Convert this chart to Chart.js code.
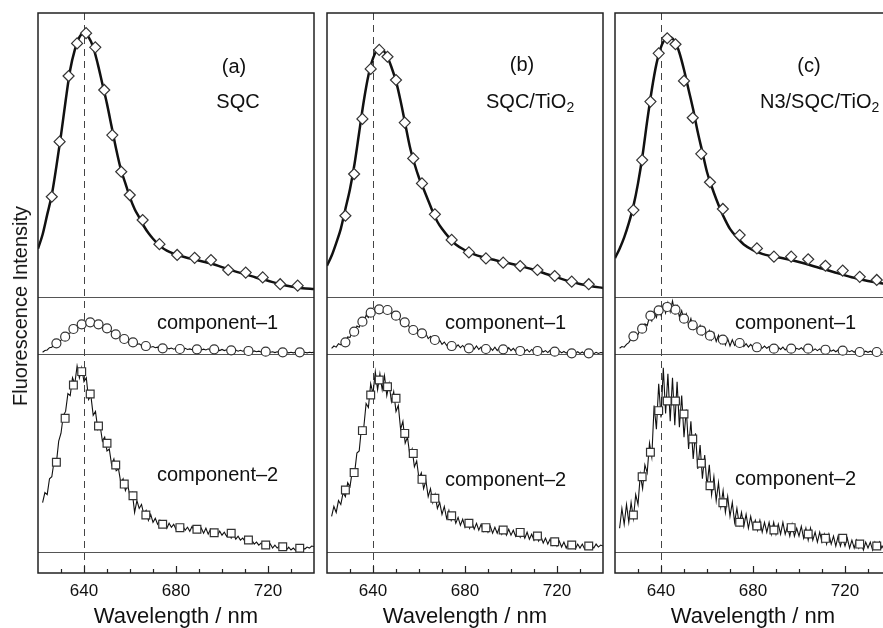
<!DOCTYPE html>
<html>
<head>
<meta charset="utf-8">
<script src="https://cdn.jsdelivr.net/npm/chart.js@4.4.0/dist/chart.umd.min.js"></script>
<style>
  html, body { margin: 0; padding: 0; background: #fff; overflow: hidden; }
  #wrap { position: relative; width: 883px; height: 628px; overflow: hidden; font-family: 'Liberation Sans', Arial, sans-serif; color: #111; }
  #wrap canvas { position: absolute; top: 0; }
  .lbl { position: absolute; font-size: 20px; line-height: 20px; white-space: nowrap; transform: translateY(-50%); }
  .ctr { transform: translate(-50%, -50%); }
  .lbl sub { font-size: 14px; vertical-align: -4px; line-height: 0; }
  #ytitle { position: absolute; left: 20px; top: 306px; font-size: 20px; line-height: 20px; white-space: nowrap; transform: translate(-50%, -50%) rotate(-90deg); }
</style>
</head>
<body>
<div id="wrap">
  <canvas id="panelA" width="322" height="628" style="left:0px"></canvas>
  <canvas id="panelB" width="322" height="628" style="left:289px"></canvas>
  <canvas id="panelC" width="322" height="628" style="left:577px"></canvas>

  <div id="ytitle">Fluorescence Intensity</div>

  <div class="lbl ctr" style="left:234px;top:66px">(a)</div>
  <div class="lbl ctr" style="left:238px;top:101px">SQC</div>
  <div class="lbl ctr" style="left:522px;top:64px">(b)</div>
  <div class="lbl" style="left:486px;top:101px">SQC/TiO<sub>2</sub></div>
  <div class="lbl ctr" style="left:809px;top:65px">(c)</div>
  <div class="lbl" style="left:760px;top:101px">N3/SQC/TiO<sub>2</sub></div>

  <div class="lbl" style="left:157px;top:322px">component–1</div>
  <div class="lbl" style="left:157px;top:474px">component–2</div>
  <div class="lbl" style="left:445px;top:322px">component–1</div>
  <div class="lbl" style="left:445px;top:479px">component–2</div>
  <div class="lbl" style="left:735px;top:322px">component–1</div>
  <div class="lbl" style="left:735px;top:478px">component–2</div>
</div>

<script>
// x positions (nm)
const wlCurve = [620,622,624,626,628,630,632,634,636,638,640,642,644,646,648,650,652,654,656,658,660,662,664,666,668,670,673,676,680,684,688,692,696,700,705,710,715,720,725,730,735,740];
const wlMarkTopA = [626,629.4,633.3,637,640.9,644.9,648.8,652.3,656.2,659.9,665.5,672.8,680.5,688.1,695.2,702.7,710.3,717.7,725.3,732.9];
const wlMark = [628,631.8,635.4,639,642.7,646.3,650,653.8,657.5,661.3,666.9,674.2,681.7,689.1,696.6,704,711.5,719,726.4,733.8];
const wlNoisy = Array.from({ length: 119 }, (_, i) => 622 + i);   // 622 ... 740, 1 nm
const tickLabels = [640, 680, 720];
const dashedAt = 640;

// full spectra (top row), smooth fit
const topCurveA = [0.17,0.22,0.29,0.36,0.46,0.57,0.69,0.80,0.87,0.915,0.93,0.915,0.88,0.82,0.75,0.68,0.60,0.52,0.45,0.40,0.35,0.31,0.28,0.25,0.225,0.205,0.18,0.163,0.15,0.14,0.132,0.124,0.116,0.105,0.092,0.080,0.068,0.057,0.046,0.037,0.031,0.028];
const topCurveB = [0.11,0.145,0.19,0.24,0.31,0.38,0.47,0.58,0.69,0.78,0.84,0.87,0.87,0.85,0.81,0.76,0.69,0.61,0.53,0.47,0.42,0.38,0.34,0.30,0.265,0.24,0.21,0.185,0.165,0.150,0.140,0.132,0.124,0.117,0.107,0.096,0.082,0.069,0.056,0.046,0.038,0.032];
const topCurveC = [0.137,0.17,0.21,0.26,0.32,0.40,0.50,0.62,0.73,0.82,0.88,0.91,0.915,0.90,0.86,0.80,0.73,0.66,0.58,0.51,0.44,0.39,0.345,0.305,0.27,0.24,0.21,0.185,0.165,0.152,0.144,0.138,0.131,0.123,0.112,0.100,0.088,0.076,0.065,0.056,0.049,0.044];

// diamonds
const topMarkA = [0.353,0.547,0.778,0.893,0.929,0.879,0.729,0.570,0.441,0.359,0.271,0.186,0.148,0.138,0.130,0.095,0.086,0.069,0.045,0.040];
const topMarkB = [0.286,0.433,0.627,0.803,0.870,0.846,0.764,0.614,0.488,0.400,0.291,0.201,0.157,0.136,0.121,0.109,0.095,0.074,0.054,0.045];
const topMarkC = [0.306,0.482,0.688,0.858,0.911,0.890,0.761,0.631,0.504,0.404,0.310,0.218,0.171,0.142,0.142,0.133,0.110,0.093,0.071,0.060];

// circles (component-1)
const c1MarkA = [0.188,0.304,0.439,0.521,0.556,0.521,0.451,0.346,0.263,0.205,0.140,0.100,0.088,0.082,0.082,0.065,0.053,0.040,0.030,0.030];
const c1MarkB = [0.205,0.391,0.567,0.725,0.784,0.772,0.672,0.556,0.421,0.363,0.246,0.140,0.100,0.088,0.082,0.053,0.053,0.040,0.012,0.012];
const c1MarkC = [0.310,0.444,0.672,0.767,0.825,0.777,0.619,0.504,0.409,0.321,0.251,0.193,0.118,0.093,0.093,0.093,0.075,0.058,0.035,0.035];

// squares (component-2)
const c2MarkA = [0.453,0.675,0.843,0.911,0.798,0.636,0.549,0.439,0.343,0.284,0.187,0.140,0.123,0.115,0.097,0.095,0.061,0.035,0.027,0.019];
const c2MarkB = [0.313,0.401,0.613,0.793,0.869,0.835,0.776,0.599,0.498,0.367,0.271,0.183,0.145,0.123,0.111,0.099,0.081,0.052,0.035,0.030];
const c2MarkC = [0.187,0.380,0.504,0.714,0.763,0.763,0.697,0.571,0.448,0.335,0.249,0.150,0.131,0.111,0.123,0.091,0.069,0.069,0.040,0.030];

// component-1 raw traces, 622-740 nm
const c1LineA = [
  0.03,0.06,0.07,0.11,0.12,0.17,0.18,0.23,0.24,0.29,
  0.30,0.36,0.37,0.43,0.44,0.49,0.49,0.53,0.53,0.57,
  0.55,0.57,0.54,0.54,0.51,0.51,0.47,0.47,0.43,0.42,
  0.39,0.36,0.35,0.31,0.30,0.26,0.26,0.22,0.22,0.19,
  0.20,0.17,0.18,0.15,0.16,0.13,0.14,0.12,0.13,0.11,
  0.12,0.10,0.115,0.095,0.11,0.09,0.105,0.085,0.10,0.085,
  0.095,0.08,0.10,0.08,0.09,0.075,0.095,0.075,0.09,0.07,
  0.085,0.07,0.09,0.065,0.085,0.065,0.08,0.06,0.08,0.06,
  0.075,0.055,0.075,0.055,0.07,0.05,0.065,0.05,0.065,0.045,
  0.06,0.04,0.055,0.04,0.05,0.035,0.05,0.03,0.045,0.03,
  0.04,0.025,0.04,0.025,0.035,0.02,0.035,0.02,0.03,0.02,
  0.03,0.015,0.03,0.02,0.03,0.02,0.03,0.025,0.03
];
const c1LineB = [
  0.10,0.14,0.12,0.18,0.16,0.23,0.21,0.30,0.29,0.39,
  0.38,0.49,0.47,0.59,0.56,0.68,0.64,0.76,0.70,0.82,
  0.73,0.80,0.74,0.81,0.74,0.78,0.70,0.74,0.65,0.69,
  0.56,0.60,0.50,0.55,0.45,0.49,0.40,0.44,0.35,0.40,
  0.31,0.36,0.27,0.31,0.23,0.28,0.19,0.24,0.17,0.21,
  0.15,0.19,0.14,0.17,0.12,0.16,0.11,0.15,0.10,0.14,
  0.09,0.13,0.085,0.14,0.08,0.12,0.075,0.13,0.07,0.11,
  0.065,0.12,0.06,0.11,0.07,0.10,0.05,0.11,0.06,0.10,
  0.05,0.09,0.04,0.09,0.05,0.08,0.035,0.08,0.04,0.07,
  0.03,0.07,0.035,0.06,0.025,0.065,0.03,0.05,0.02,0.055,
  0.02,0.045,0.015,0.05,0.015,0.04,0.01,0.04,0.01,0.035,
  0.005,0.03,0.01,0.03,0.005,0.03,0.01,0.025,0.02
];
const c1LineC = [
  0.10,0.13,0.12,0.17,0.20,0.27,0.28,0.35,0.34,0.44,
  0.42,0.53,0.50,0.65,0.58,0.74,0.64,0.80,0.68,0.86,
  0.72,0.90,0.74,0.93,0.72,0.84,0.65,0.76,0.58,0.70,
  0.50,0.62,0.44,0.56,0.39,0.50,0.34,0.46,0.29,0.41,
  0.25,0.37,0.22,0.33,0.19,0.30,0.16,0.27,0.14,0.25,
  0.15,0.21,0.14,0.20,0.13,0.18,0.12,0.17,0.12,0.16,
  0.10,0.15,0.10,0.14,0.10,0.13,0.08,0.13,0.09,0.12,
  0.08,0.12,0.07,0.11,0.08,0.12,0.07,0.10,0.08,0.11,
  0.07,0.10,0.06,0.10,0.06,0.09,0.06,0.09,0.05,0.08,
  0.05,0.08,0.05,0.07,0.04,0.07,0.04,0.06,0.04,0.06,
  0.04,0.06,0.03,0.06,0.03,0.05,0.03,0.05,0.03,0.05,
  0.03,0.05,0.03,0.04,0.03,0.04,0.03,0.04,0.04
];

// component-2 raw traces, 622-740 nm
const c2LineA = [
  0.25,0.30,0.29,0.37,0.38,0.46,0.45,0.56,0.60,0.69,
  0.71,0.80,0.79,0.88,0.85,0.94,0.88,0.93,0.86,0.88,
  0.77,0.79,0.69,0.71,0.62,0.64,0.56,0.58,0.51,0.52,
  0.44,0.47,0.41,0.42,0.35,0.37,0.31,0.34,0.28,0.30,
  0.20,0.26,0.22,0.24,0.19,0.21,0.16,0.19,0.15,0.17,
  0.14,0.16,0.13,0.15,0.12,0.145,0.125,0.14,0.115,0.135,
  0.11,0.13,0.11,0.125,0.105,0.13,0.105,0.125,0.10,0.12,
  0.095,0.12,0.09,0.115,0.09,0.11,0.085,0.105,0.085,0.10,
  0.08,0.095,0.07,0.09,0.065,0.08,0.06,0.07,0.055,0.065,
  0.045,0.06,0.04,0.05,0.035,0.045,0.03,0.04,0.025,0.04,
  0.02,0.035,0.02,0.03,0.015,0.03,0.01,0.025,0.01,0.02,
  0.008,0.02,0.01,0.02,0.015,0.025,0.02,0.03,0.028
];
const c2LineB = [
  0.18,0.23,0.20,0.26,0.24,0.30,0.28,0.35,0.33,0.41,
  0.40,0.50,0.51,0.63,0.63,0.75,0.73,0.85,0.80,0.91,
  0.82,0.90,0.82,0.89,0.79,0.85,0.76,0.81,0.71,0.74,
  0.62,0.66,0.55,0.58,0.49,0.52,0.43,0.46,0.37,0.40,
  0.32,0.36,0.28,0.32,0.25,0.29,0.22,0.25,0.19,0.23,
  0.17,0.21,0.16,0.19,0.145,0.175,0.135,0.165,0.125,0.16,
  0.12,0.15,0.115,0.145,0.11,0.14,0.105,0.135,0.10,0.13,
  0.095,0.125,0.095,0.125,0.09,0.12,0.085,0.115,0.085,0.11,
  0.08,0.11,0.075,0.10,0.07,0.10,0.065,0.09,0.06,0.09,
  0.055,0.08,0.045,0.07,0.04,0.065,0.035,0.06,0.03,0.055,
  0.025,0.05,0.02,0.045,0.02,0.04,0.015,0.04,0.02,0.04,
  0.015,0.04,0.02,0.035,0.02,0.04,0.025,0.035,0.03
];
const c2LineC = [
  0.12,0.22,0.14,0.24,0.15,0.25,0.17,0.29,0.24,0.39,
  0.32,0.44,0.40,0.55,0.48,0.74,0.62,0.85,0.68,0.93,
  0.70,0.90,0.66,0.88,0.64,0.86,0.63,0.79,0.58,0.72,
  0.52,0.66,0.47,0.60,0.42,0.54,0.37,0.49,0.33,0.44,
  0.29,0.38,0.26,0.35,0.23,0.31,0.20,0.28,0.18,0.25,
  0.15,0.22,0.14,0.20,0.13,0.19,0.12,0.18,0.12,0.16,
  0.11,0.16,0.10,0.15,0.10,0.15,0.09,0.15,0.09,0.14,
  0.09,0.15,0.09,0.13,0.08,0.14,0.08,0.12,0.08,0.13,
  0.07,0.12,0.06,0.12,0.06,0.10,0.05,0.10,0.05,0.09,
  0.04,0.09,0.04,0.08,0.03,0.08,0.03,0.07,0.03,0.07,
  0.02,0.06,0.02,0.06,0.02,0.05,0.01,0.05,0.02,0.05,
  0.01,0.05,0.02,0.05,0.02,0.04,0.02,0.04,0.03
];

Chart.defaults.font.family = "'Liberation Sans', Arial, sans-serif";
Chart.defaults.color = '#111';

function pts(xs, ys) {
  return ys.map((v, i) => ({ x: xs[i], y: v }));
}

// frame, separators, dashed 640 nm line and inward ticks
const frame = {
  id: 'frame',
  beforeDatasetsDraw(chart) {
    const { ctx, chartArea } = chart;
    const { x, yTop, yMid, yBot } = chart.scales;
    ctx.save();
    ctx.strokeStyle = '#555';
    ctx.lineWidth = 1;
    [yTop.bottom, yMid.bottom, yBot.getPixelForValue(0)].forEach(py => {
      ctx.beginPath();
      ctx.moveTo(chartArea.left, Math.round(py) + 0.5);
      ctx.lineTo(chartArea.right, Math.round(py) + 0.5);
      ctx.stroke();
    });
    const px = Math.round(x.getPixelForValue(dashedAt)) + 0.5;
    ctx.setLineDash([7, 5]);
    ctx.strokeStyle = '#444';
    ctx.beginPath();
    ctx.moveTo(px, chartArea.top);
    ctx.lineTo(px, chartArea.bottom);
    ctx.stroke();
    ctx.restore();
  },
  afterDraw(chart) {
    const { ctx, chartArea } = chart;
    const x = chart.scales.x;
    ctx.save();
    ctx.strokeStyle = '#222';
    ctx.lineWidth = 1.5;
    ctx.strokeRect(chartArea.left, chartArea.top, chartArea.right - chartArea.left, chartArea.bottom - chartArea.top);
    ctx.lineWidth = 1.2;
    x.ticks.forEach(t => {
      if (t.value <= x.min || t.value >= x.max) return;
      const px = Math.round(x.getPixelForValue(t.value)) + 0.5;
      const len = tickLabels.includes(t.value) ? 7 : 4;
      ctx.beginPath();
      ctx.moveTo(px, chartArea.bottom);
      ctx.lineTo(px, chartArea.bottom - len);
      ctx.stroke();
    });
    ctx.restore();
  }
};

function hiddenY(min, weight) {
  return {
    type: 'linear', position: 'left', stack: 'panel', stackWeight: weight,
    min: min, max: 1,
    ticks: { display: false },
    grid: { display: false, drawTicks: false },
    border: { display: false },
    afterFit: s => { s.width = 0; }
  };
}

function markers(xs, ys, axis, style, r) {
  return {
    data: pts(xs, ys), yAxisID: axis, showLine: false, clip: false,
    pointStyle: style, pointRadius: r, pointBorderWidth: 1.2,
    pointBorderColor: '#333', pointBackgroundColor: '#fff', order: 0
  };
}

function trace(xs, ys, axis, w) {
  return {
    data: pts(xs, ys), yAxisID: axis, borderColor: '#111', borderWidth: w,
    pointRadius: 0, tension: 0, order: 1
  };
}

function crearPanel(id, s) {
  const ctx = document.getElementById(id).getContext('2d');
  return new Chart(ctx, {
    type: 'line',
    data: {
      datasets: [
        markers(s.topX, s.topMark, 'yTop', 'rectRot', 5.5),
        markers(wlMark, s.c1Mark, 'yMid', 'circle', 4.5),
        markers(wlMark, s.c2Mark, 'yBot', 'rect', 5.5),
        Object.assign(trace(wlCurve, s.topCurve, 'yTop', 2.5), { cubicInterpolationMode: 'monotone' }),
        trace(wlNoisy, s.c1Line, 'yMid', 1.1),
        trace(wlNoisy, s.c2Line, 'yBot', 1.1)
      ]
    },
    options: {
      responsive: false,
      animation: false,
      layout: { padding: { left: 38, right: 4, top: 13, bottom: 0 } },
      plugins: { legend: { display: false }, tooltip: { enabled: false } },
      scales: {
        x: {
          type: 'linear', position: 'bottom', min: 620, max: 740,
          ticks: {
            stepSize: 10, autoSkip: false, maxRotation: 0, padding: 8,
            font: { size: 17 }, color: '#111',
            callback: v => tickLabels.includes(v) ? v : ''
          },
          grid: { display: false, drawTicks: false },
          border: { display: false },
          title: { display: true, text: 'Wavelength / nm', font: { size: 22 }, color: '#111', padding: { top: 0, bottom: -2 } },
          afterFit: sc => { sc.height = 55; }
        },
        // left axes stack in reverse order, so the bottom strip is listed first
        yBot: hiddenY(-0.106, 219),
        yMid: hiddenY(0, 57),
        yTop: hiddenY(0, 284)
      }
    },
    plugins: [frame]
  });
}

crearPanel('panelA', { topX: wlMarkTopA, topCurve: topCurveA, topMark: topMarkA, c1Mark: c1MarkA, c2Mark: c2MarkA, c1Line: c1LineA, c2Line: c2LineA });
crearPanel('panelB', { topX: wlMark, topCurve: topCurveB, topMark: topMarkB, c1Mark: c1MarkB, c2Mark: c2MarkB, c1Line: c1LineB, c2Line: c2LineB });
crearPanel('panelC', { topX: wlMark, topCurve: topCurveC, topMark: topMarkC, c1Mark: c1MarkC, c2Mark: c2MarkC, c1Line: c1LineC, c2Line: c2LineC });
</script>
</body>
</html>
